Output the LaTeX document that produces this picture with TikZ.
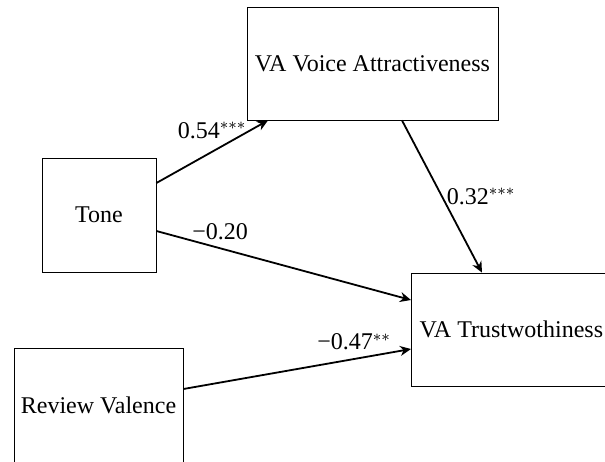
\documentclass[tikz,border=0pt]{standalone}
\usepackage{fontspec}
\setmainfont{Liberation Serif}
\usepackage{tikz}
\usetikzlibrary{arrows.meta}

\begin{document}
\begin{tikzpicture}[x=0.5pt,y=-0.5pt,
  var/.style={draw,thin,inner sep=0pt,font=\fontsize{12}{14}\selectfont},
  path/.style={line width=0.9pt,-{Stealth[length=5.5pt,width=5pt,inset=1.8pt]}},
  coef/.style={font=\fontsize{12}{14}\selectfont,inner sep=1pt}]
\useasboundingbox (0,0) rectangle (605,461);
\node[var, minimum width=125.5pt, minimum height=56.5pt] (voice) at (372.5,63.5) {VA Voice Attractiveness};
\node[var, minimum width=57pt, minimum height=57pt] (tone) at (99,215) {Tone};
\node[var, anchor=west, minimum width=100pt, minimum height=56.5pt] (trust) at (411,329.5) {VA Trustwothiness};
\node[var, minimum width=84.5pt, minimum height=57pt] (review) at (98.5,405) {Review Valence};
\draw[path] ([yshift=16pt]tone.east) -- ([xshift=-52.25pt]voice.south)
  node[coef, pos=0.5, above=5pt] {0.54$^{***}$};
\draw[path] ([xshift=14.75pt]voice.south) -- ([xshift=35.5pt]trust.north west)
  node[coef, pos=0.5, right=1pt] {0.32$^{***}$};
\draw[path] ([yshift=-8pt]tone.east) -- ([yshift=14.75pt]trust.west)
  node[coef, pos=0.25, above=3pt] {−0.20};
\draw[path] ([yshift=8pt]review.east) -- ([yshift=-9.75pt]trust.west)
  node[coef, pos=0.75, above=3pt] {−0.47$^{**}$};
\end{tikzpicture}
\end{document}
